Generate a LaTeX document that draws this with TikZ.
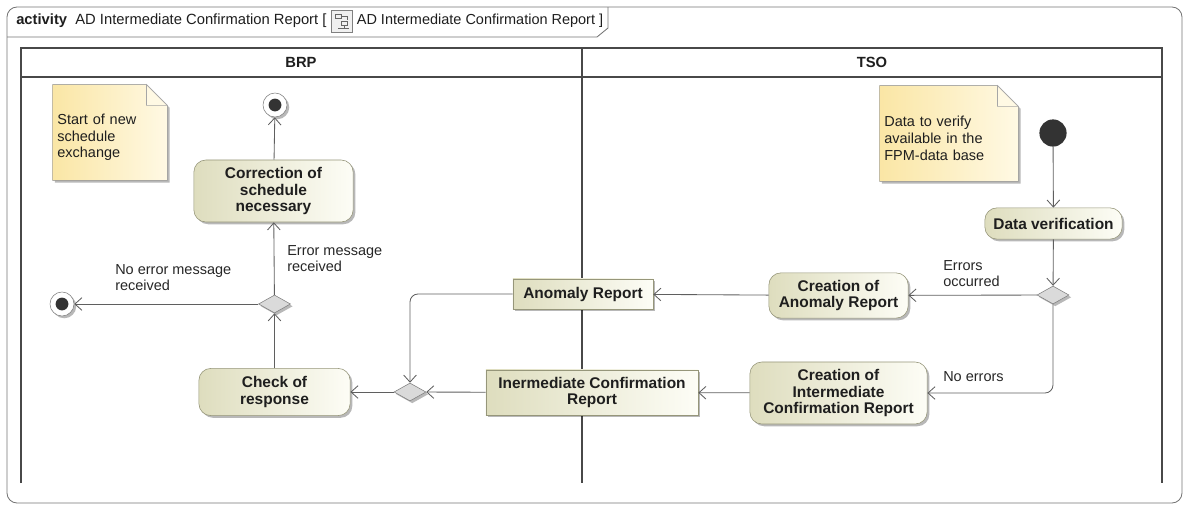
\documentclass[tikz,border=0pt]{standalone}
\usepackage{fontspec}
\setmainfont{Liberation Sans}
\usetikzlibrary{arrows.meta,shapes.geometric,shadows,positioning,backgrounds,calc}

\definecolor{laneline}{RGB}{72,72,72}
\definecolor{flowcol}{RGB}{95,95,95}
\definecolor{actborder}{RGB}{150,150,122}
\definecolor{actdark}{RGB}{222,221,190}
\definecolor{actlight}{RGB}{253,253,246}
\definecolor{notedark}{RGB}{250,230,165}
\definecolor{notelight}{RGB}{255,249,228}
\definecolor{decfill}{RGB}{218,218,218}
\definecolor{txtcol}{RGB}{30,30,30}

\begin{document}
\begin{tikzpicture}[x=0.025cm,y=-0.025cm,
font=\fontsize{10.3}{11.9}\selectfont, text=txtcol,
shade/.style={drop shadow={shadow xshift=1.6pt,shadow yshift=-1.6pt,fill=black,opacity=0.28}},
action/.style={rectangle,rounded corners=0.3cm,draw=actborder,left color=actdark,right color=actlight,
  shade,font=\fontsize{11}{11.9}\selectfont\bfseries,align=center,inner sep=0pt},
object/.style={rectangle,draw=actborder,left color=actdark,right color=actlight,
  shade,font=\fontsize{11}{11.9}\selectfont\bfseries,align=center,inner sep=0pt},
decision/.style={diamond,draw=gray,fill=decfill,minimum width=0.8cm,minimum height=0.45cm,inner sep=0pt,shade},
initial/.style={circle,fill=black!80,minimum size=0.68cm,inner sep=0pt},
final/.style={circle,draw=gray,fill=white,minimum size=0.6cm,inner sep=0pt,shade,
  path picture={\fill[black!80] (path picture bounding box.center) circle (0.16cm);}},
notebox/.style={rectangle,align=left,inner xsep=0.11cm,inner ysep=0pt,minimum height=2.38cm},
guard/.style={align=left,inner sep=0pt,anchor=west,text=black!85},
flow/.style={draw=flowcol,line width=0.6pt,-{Straight Barb[length=5pt,width=9pt]}},
lane/.style={draw=laneline,line width=1.4pt}]
\useasboundingbox (0,0) rectangle (1186,507);

% frame and title
\draw[black!55,line width=0.6pt,rounded corners=0.25cm] (7,7) rectangle (1182,503);
\draw[black!55,line width=0.6pt] (7,37) -- (597,37) -- (608,28) -- (608,7);
\node[anchor=west,inner sep=0pt,font=\fontsize{10.5}{12}\selectfont] (title1) at (16,21)
  {\textbf{activity}\ \ AD Intermediate Confirmation Report [};
\node[right=3pt of title1,draw=black!50,fill=black!6,minimum width=0.52cm,minimum height=0.54cm,inner sep=0pt,
  path picture={\draw[black!60,line width=0.6pt]
    ($(path picture bounding box.north west)+(4,4)$) rectangle ++(6,4)
    ($(path picture bounding box.north west)+(10,6)$) -- ++(6,0) -- ++(0,4)
    ($(path picture bounding box.north west)+(10,11)$) rectangle ++(6,4)
    ($(path picture bounding box.north west)+(13,15)$) -- ++(0,3) ++(-6,0) -- ++(11,0);}] (icon) {};
\node[right=3pt of icon,inner sep=0pt,font=\fontsize{10.3}{12}\selectfont] (title2)
  {AD Intermediate Confirmation Report ]};

% swimlanes
\node[font=\fontsize{10.5}{11.9}\selectfont\bfseries] (brp) at (301,62.5) {BRP};
\node[font=\fontsize{10.5}{11.9}\selectfont\bfseries] (tso) at (872,62.5) {TSO};

% BRP
\node[notebox,minimum width=2.85cm,text width=2.63cm] (note1) at (110,137.5)
  {Start of new\\schedule\\exchange};
\node[final] (finTop) at (275,105) {};
\node[action,minimum width=3.98cm,minimum height=1.55cm] (correct) at (273.5,191)
  {Correction of\\schedule\\necessary};
\node[decision] (decL) at (274.5,304) {};
\node[final] (finLeft) at (62,304) {};
\node[action,minimum width=3.78cm,minimum height=1.18cm] (check) at (274.5,392)
  {Check of\\response};
\node[decision] (merge) at (410,392) {};

% on the lane border
\node[object,minimum width=3.5cm,minimum height=0.75cm] (anom) at (583,294) {Anomaly Report};
\node[object,minimum width=5.3cm,minimum height=1.13cm] (icr) at (592,392.5)
  {Inermediate Confirmation\\Report};

% TSO
\node[notebox,minimum width=3.45cm,text width=3.23cm] (note2) at (949,138.5)
  {Data to verify\\available in the\\FPM-data base};
\node[initial] (start) at (1053,133) {};
\node[action,minimum width=3.43cm,minimum height=0.78cm] (verify) at (1053.5,223.5) {Data verification};
\node[decision] (decR) at (1053,295) {};
\node[action,minimum width=3.48cm,minimum height=1.13cm] (car) at (838.5,295.5)
  {Creation of\\Anomaly Report};
\node[action,minimum width=4.43cm,minimum height=1.55cm] (cicr) at (838.5,393)
  {Creation of\\Intermediate\\Confirmation Report};

% guards
\node[guard] (gErr) at (287,258.5) {Error message\\received};
\node[guard] (gNoErr) at (115,277.5) {No error message\\received};
\node[guard] (gOcc) at (943,273.5) {Errors\\occurred};
\node[guard] (gNo) at (943,377) {No errors};

\begin{scope}[on background layer]
\draw[lane] (21,483) -- (21,48) -- (1162,48) -- (1162,483);
\draw[lane] (21,77) -- (1162,77);
\draw[lane] (582,48) -- (582,483);
\foreach \n in {note1,note2}{
  \fill[left color=notedark,right color=notelight,shade,draw=black!35,line width=0.4pt]
    ([yshift=0.125cm]\n.north west) -- ([xshift=-0.52cm,yshift=0.125cm]\n.north east)
    -- ([yshift=-0.395cm]\n.north east) -- ([yshift=0.125cm]\n.south east)
    -- ([yshift=0.125cm]\n.south west) -- cycle;
  \draw[black!35,line width=0.4pt,fill=notelight]
    ([xshift=-0.52cm,yshift=0.125cm]\n.north east) -- ([xshift=-0.52cm,yshift=-0.395cm]\n.north east)
    -- ([yshift=-0.395cm]\n.north east) -- cycle;
}
\end{scope}

% flows
\draw[flow] (start) -- (verify);
\draw[flow] (verify) -- (decR);
\draw[flow] (decR) -- (car);
\draw[flow,rounded corners=0.2cm] (decR.south) |- (cicr.east);
\draw[flow] (car) -- (anom);
\draw[flow] (cicr) -- (icr);
\draw[flow,rounded corners=0.2cm] (anom.west) -| (merge.north);
\draw[flow] (icr) -- (merge);
\draw[flow] (merge) -- (check);
\draw[flow] (check) -- (decL);
\draw[flow] (decL) -- (correct);
\draw[flow] (decL) -- (finLeft);
\draw[flow] (correct) -- (finTop);
\end{tikzpicture}
\end{document}
